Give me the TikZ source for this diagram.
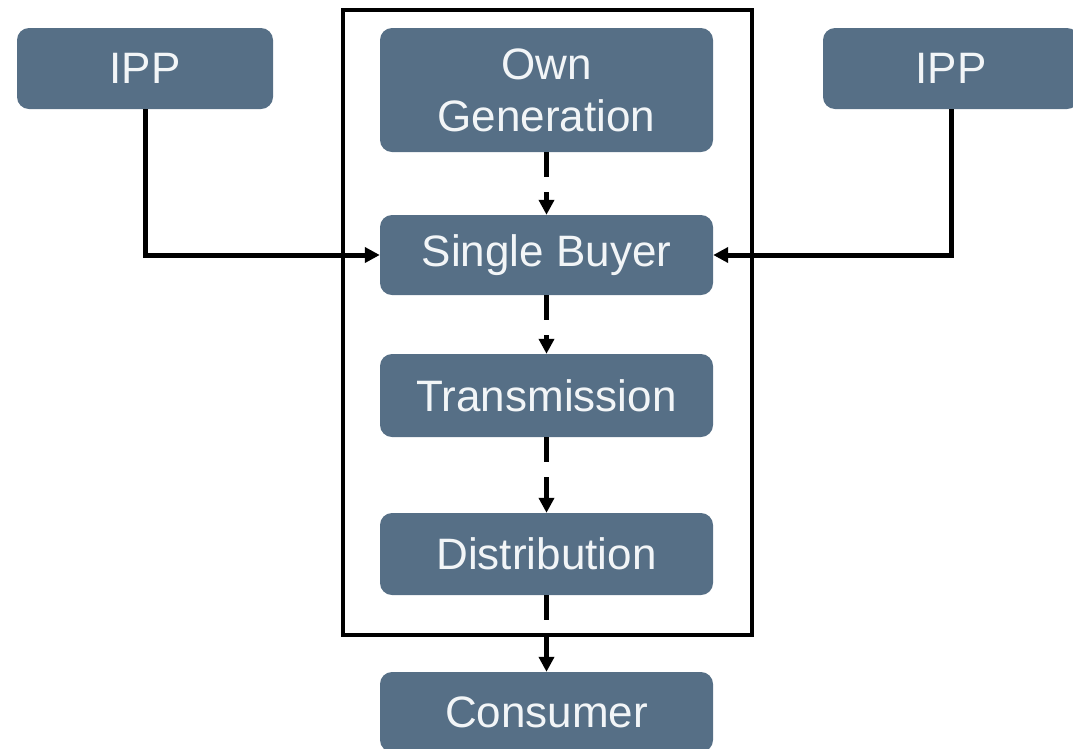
\documentclass[tikz,border=0pt]{standalone}
\usepackage{fontspec}
\setmainfont{Liberation Sans}
\usetikzlibrary{arrows.meta}
\definecolor{boxfill}{HTML}{566F86}
\definecolor{boxtext}{HTML}{F2F5F7}
\begin{document}
\begin{tikzpicture}[x=1pt,y=-1pt,
  blk/.style={draw=none, fill=boxfill, rounded corners=12pt, text=boxtext,
    font=\fontsize{44}{52}\selectfont, align=center, inner sep=0pt, minimum width=333pt},
  ippbox/.style={blk, minimum width=256pt, minimum height=81pt},
  conn/.style={line width=5pt, -{Triangle[length=15pt,width=15pt]}},
  dconn/.style={conn, dash pattern=on 25pt off 15pt},
  frame/.style={line width=4pt}]
\useasboundingbox (0,0) rectangle (1073,748);
\clip (0,0) rectangle (1073,748);
\node[ippbox] (ipp1) at (145,68.5) {IPP};
\node[ippbox] (ipp2) at (951,68.5) {IPP};
\node[blk, minimum height=124pt] (own) at (546.5,90) {Own\\Generation};
\node[blk, minimum height=80pt] (sb) at (546.5,255) {Single Buyer};
\node[blk, minimum height=83pt] (tr) at (546.5,395.5) {Transmission};
\node[blk, minimum height=82pt] (di) at (546.5,554) {Distribution};
\node[blk, minimum height=80pt] (co) at (546.5,712) {Consumer};
\draw[frame] (343,10) rectangle (752,635);
\draw[conn] (ipp1.south) |- (sb.west);
\draw[conn] (ipp2.south) |- (sb.east);
\draw[dconn] (own) -- (sb);
\draw[dconn] (sb) -- (tr);
\draw[dconn] (tr) -- (di);
\draw[dconn] (di) -- (co);
\end{tikzpicture}
\end{document}
